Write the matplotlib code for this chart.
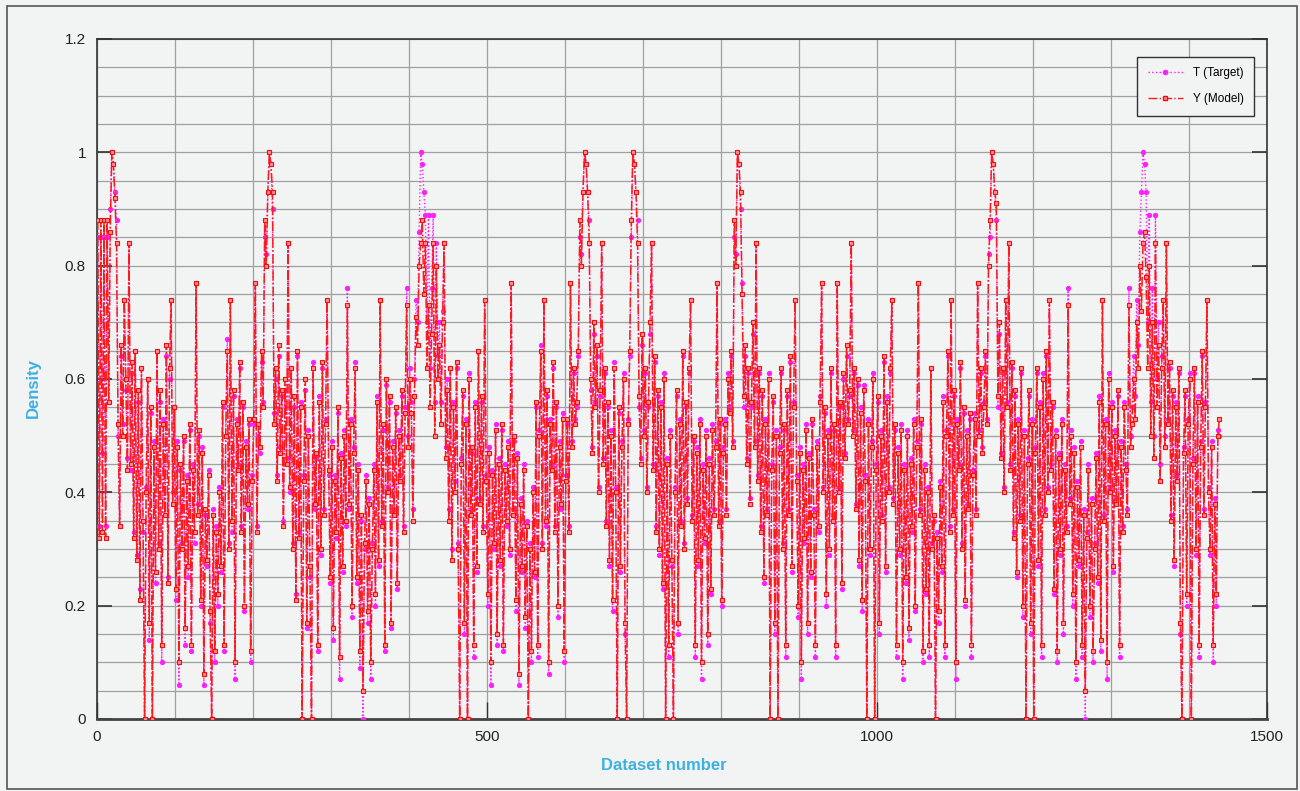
import numpy as np
import matplotlib
matplotlib.use("Agg")
import matplotlib.pyplot as plt
from matplotlib.patches import Rectangle
from matplotlib.lines import Line2D

plt.rcParams['font.family'] = ['Liberation Sans', 'DejaVu Sans']

# dataset number (every second sample is kept)
dataset_no = np.arange(1, 1440, 2)

# Y (Model) output
model = [
    0.88, 0.32, 0.88, 0.33, 0.88, 0.32, 0.88, 0.56, 0.86, 1.00,
    0.98, 0.92, 0.84, 0.52, 0.34, 0.66, 0.50, 0.74, 0.60, 0.44,
    0.84, 0.45, 0.63, 0.32, 0.65, 0.28, 0.58, 0.21, 0.62, 0.35,
    0.00, 0.40, 0.60, 0.17, 0.55, 0.00, 0.48, 0.26, 0.65, 0.30,
    0.58, 0.13, 0.52, 0.36, 0.66, 0.24, 0.62, 0.74, 0.38, 0.55,
    0.23, 0.48, 0.10, 0.45, 0.30, 0.50, 0.16, 0.42, 0.27, 0.52,
    0.13, 0.44, 0.33, 0.77, 0.36, 0.51, 0.21, 0.47, 0.08, 0.37,
    0.28, 0.43, 0.19, 0.00, 0.36, 0.12, 0.33, 0.22, 0.40, 0.27,
    0.56, 0.13, 0.50, 0.65, 0.30, 0.74, 0.35, 0.58, 0.10, 0.52,
    0.44, 0.63, 0.33, 0.56, 0.20, 0.48, 0.38, 0.53, 0.12, 0.42,
    0.53, 0.77, 0.33, 0.52, 0.48, 0.65, 0.55, 0.88, 0.80, 0.93,
    1.00, 0.98, 0.93, 0.52, 0.62, 0.42, 0.66, 0.47, 0.58, 0.34,
    0.60, 0.45, 0.84, 0.41, 0.62, 0.30, 0.57, 0.21, 0.65, 0.32,
    0.55, 0.00, 0.42, 0.60, 0.17, 0.50, 0.27, 0.00, 0.62, 0.38,
    0.47, 0.13, 0.56, 0.30, 0.63, 0.36, 0.52, 0.74, 0.44, 0.25,
    0.48, 0.16, 0.42, 0.33, 0.55, 0.11, 0.46, 0.27, 0.50, 0.35,
    0.73, 0.38, 0.52, 0.20, 0.47, 0.62, 0.25, 0.44, 0.12, 0.36,
    0.05, 0.31, 0.42, 0.19, 0.38, 0.10, 0.30, 0.44, 0.22, 0.56,
    0.28, 0.74, 0.34, 0.52, 0.13, 0.60, 0.40, 0.57, 0.17, 0.48,
    0.36, 0.55, 0.24, 0.50, 0.42, 0.58, 0.33, 0.54, 0.73, 0.48,
    0.60, 0.54, 0.35, 0.57, 0.71, 0.66, 0.80, 0.84, 0.88, 0.75,
    0.84, 0.62, 0.73, 0.55, 0.68, 0.84, 0.50, 0.80, 0.60, 0.66,
    0.52, 0.70, 0.84, 0.46, 0.58, 0.35, 0.62, 0.28, 0.55, 0.40,
    0.63, 0.30, 0.00, 0.45, 0.58, 0.17, 0.52, 0.00, 0.60, 0.36,
    0.48, 0.13, 0.55, 0.27, 0.65, 0.38, 0.57, 0.33, 0.74, 0.42,
    0.22, 0.47, 0.10, 0.43, 0.31, 0.51, 0.15, 0.45, 0.28, 0.52,
    0.13, 0.44, 0.35, 0.48, 0.30, 0.77, 0.36, 0.50, 0.21, 0.46,
    0.08, 0.38, 0.27, 0.44, 0.18, 0.34, 0.00, 0.30, 0.12, 0.40,
    0.26, 0.56, 0.13, 0.50, 0.65, 0.30, 0.74, 0.35, 0.58, 0.10,
    0.52, 0.44, 0.63, 0.33, 0.56, 0.20, 0.48, 0.38, 0.53, 0.12,
    0.42, 0.53, 0.33, 0.77, 0.48, 0.62, 0.52, 0.56, 0.65, 0.88,
    0.80, 0.93, 1.00, 0.98, 0.93, 0.84, 0.60, 0.47, 0.70, 0.55,
    0.66, 0.40, 0.58, 0.84, 0.45, 0.62, 0.34, 0.56, 0.28, 0.50,
    0.21, 0.62, 0.40, 0.00, 0.55, 0.27, 0.48, 0.60, 0.17, 0.00,
    0.52, 0.65, 0.88, 1.00, 0.98, 0.93, 0.84, 0.57, 0.45, 0.68,
    0.50, 0.62, 0.40, 0.56, 0.70, 0.84, 0.44, 0.64, 0.33, 0.58,
    0.30, 0.55, 0.24, 0.60, 0.00, 0.45, 0.13, 0.50, 0.28, 0.00,
    0.40, 0.58, 0.17, 0.52, 0.34, 0.65, 0.30, 0.56, 0.38, 0.62,
    0.74, 0.35, 0.50, 0.13, 0.47, 0.28, 0.52, 0.10, 0.44, 0.32,
    0.50, 0.15, 0.45, 0.23, 0.51, 0.36, 0.48, 0.77, 0.34, 0.53,
    0.21, 0.47, 0.52, 0.36, 0.60, 0.54, 0.65, 0.48, 0.88, 0.80,
    1.00, 0.98, 0.93, 0.75, 0.57, 0.66, 0.45, 0.62, 0.38, 0.56,
    0.70, 0.48, 0.84, 0.42, 0.62, 0.33, 0.58, 0.25, 0.52, 0.36,
    0.60, 0.00, 0.44, 0.57, 0.17, 0.50, 0.00, 0.47, 0.62, 0.30,
    0.52, 0.13, 0.58, 0.36, 0.64, 0.27, 0.55, 0.74, 0.42, 0.20,
    0.47, 0.10, 0.44, 0.32, 0.51, 0.17, 0.46, 0.26, 0.53, 0.36,
    0.13, 0.48, 0.34, 0.56, 0.77, 0.40, 0.55, 0.22, 0.50, 0.30,
    0.62, 0.35, 0.52, 0.13, 0.77, 0.40, 0.56, 0.24, 0.61, 0.46,
    0.66, 0.52, 0.58, 0.84, 0.50, 0.62, 0.37, 0.60, 0.28, 0.54,
    0.21, 0.58, 0.42, 0.00, 0.52, 0.30, 0.48, 0.60, 0.00, 0.44,
    0.57, 0.17, 0.50, 0.35, 0.64, 0.27, 0.56, 0.40, 0.62, 0.74,
    0.38, 0.52, 0.13, 0.47, 0.30, 0.51, 0.10, 0.44, 0.25, 0.50,
    0.16, 0.45, 0.34, 0.52, 0.20, 0.48, 0.77, 0.36, 0.53, 0.12,
    0.44, 0.23, 0.40, 0.13, 0.62, 0.30, 0.36, 0.00, 0.32, 0.19,
    0.41, 0.27, 0.56, 0.13, 0.50, 0.65, 0.33, 0.74, 0.36, 0.58,
    0.10, 0.52, 0.44, 0.63, 0.30, 0.55, 0.21, 0.50, 0.37, 0.54,
    0.13, 0.43, 0.53, 0.36, 0.77, 0.50, 0.62, 0.47, 0.55, 0.65,
    0.52, 0.80, 0.88, 1.00, 0.98, 0.93, 0.91, 0.57, 0.70, 0.46,
    0.62, 0.40, 0.74, 0.55, 0.84, 0.44, 0.63, 0.32, 0.58, 0.26,
    0.52, 0.35, 0.62, 0.20, 0.50, 0.00, 0.45, 0.58, 0.17, 0.52,
    0.00, 0.47, 0.62, 0.28, 0.55, 0.13, 0.60, 0.36, 0.65, 0.40,
    0.74, 0.44, 0.56, 0.23, 0.50, 0.12, 0.46, 0.30, 0.52, 0.17,
    0.44, 0.33, 0.73, 0.38, 0.50, 0.22, 0.47, 0.10, 0.41, 0.28,
    0.48, 0.13, 0.36, 0.05, 0.32, 0.44, 0.20, 0.38, 0.12, 0.30,
    0.46, 0.25, 0.56, 0.14, 0.74, 0.35, 0.52, 0.10, 0.60, 0.40,
    0.55, 0.27, 0.50, 0.38, 0.58, 0.13, 0.48, 0.33, 0.55, 0.44,
    0.36, 0.73, 0.48, 0.52, 0.60, 0.53, 0.70, 0.62, 0.80, 0.72,
    0.84, 0.86, 0.78, 0.62, 0.80, 0.50, 0.70, 0.46, 0.84, 0.55,
    0.66, 0.42, 0.62, 0.74, 0.48, 0.84, 0.52, 0.63, 0.35, 0.58,
    0.28, 0.55, 0.42, 0.62, 0.17, 0.00, 0.47, 0.58, 0.22, 0.52,
    0.60, 0.00, 0.45, 0.62, 0.30, 0.56, 0.13, 0.48, 0.65, 0.36,
    0.55, 0.74, 0.40, 0.30, 0.48, 0.13, 0.38, 0.22, 0.50, 0.53,
]

# T (Target) values
target = [
    0.85, 0.34, 0.85, 0.47, 0.85, 0.34, 0.85, 0.56, 0.90, 1.00,
    0.98, 0.93, 0.88, 0.50, 0.34, 0.64, 0.52, 0.74, 0.58, 0.46,
    0.84, 0.44, 0.61, 0.33, 0.65, 0.29, 0.56, 0.23, 0.62, 0.33,
    0.00, 0.41, 0.60, 0.14, 0.54, 0.00, 0.49, 0.24, 0.65, 0.31,
    0.56, 0.10, 0.53, 0.36, 0.64, 0.25, 0.60, 0.74, 0.40, 0.55,
    0.21, 0.49, 0.06, 0.44, 0.31, 0.49, 0.13, 0.43, 0.25, 0.51,
    0.12, 0.45, 0.31, 0.77, 0.38, 0.50, 0.20, 0.48, 0.06, 0.36,
    0.27, 0.44, 0.17, 0.00, 0.37, 0.10, 0.34, 0.20, 0.41, 0.26,
    0.55, 0.12, 0.50, 0.67, 0.31, 0.74, 0.33, 0.57, 0.07, 0.53,
    0.45, 0.62, 0.34, 0.55, 0.19, 0.49, 0.37, 0.52, 0.10, 0.43,
    0.52, 0.77, 0.34, 0.50, 0.47, 0.63, 0.56, 0.85, 0.82, 0.93,
    1.00, 0.98, 0.90, 0.54, 0.60, 0.43, 0.64, 0.48, 0.57, 0.35,
    0.58, 0.46, 0.84, 0.40, 0.62, 0.31, 0.55, 0.22, 0.64, 0.33,
    0.56, 0.00, 0.43, 0.58, 0.16, 0.51, 0.25, 0.00, 0.63, 0.37,
    0.46, 0.12, 0.57, 0.29, 0.62, 0.37, 0.53, 0.74, 0.43, 0.24,
    0.49, 0.14, 0.43, 0.32, 0.54, 0.07, 0.47, 0.26, 0.51, 0.34,
    0.76, 0.37, 0.53, 0.18, 0.48, 0.63, 0.24, 0.45, 0.09, 0.35,
    0.00, 0.30, 0.43, 0.17, 0.39, 0.07, 0.31, 0.45, 0.20, 0.57,
    0.27, 0.74, 0.35, 0.51, 0.12, 0.59, 0.41, 0.56, 0.16, 0.49,
    0.37, 0.54, 0.23, 0.51, 0.43, 0.57, 0.34, 0.55, 0.76, 0.50,
    0.62, 0.56, 0.37, 0.60, 0.74, 0.70, 0.86, 1.00, 0.98, 0.93,
    0.89, 0.70, 0.89, 0.62, 0.76, 0.89, 0.56, 0.84, 0.64, 0.70,
    0.56, 0.72, 0.84, 0.48, 0.60, 0.37, 0.62, 0.30, 0.56, 0.42,
    0.62, 0.31, 0.00, 0.46, 0.57, 0.15, 0.53, 0.00, 0.61, 0.37,
    0.47, 0.11, 0.56, 0.26, 0.65, 0.39, 0.56, 0.34, 0.74, 0.43,
    0.20, 0.48, 0.06, 0.44, 0.30, 0.52, 0.13, 0.46, 0.27, 0.51,
    0.12, 0.45, 0.34, 0.49, 0.29, 0.77, 0.37, 0.49, 0.19, 0.47,
    0.06, 0.39, 0.26, 0.45, 0.16, 0.35, 0.00, 0.31, 0.10, 0.41,
    0.25, 0.55, 0.11, 0.51, 0.66, 0.31, 0.74, 0.34, 0.57, 0.08,
    0.53, 0.45, 0.62, 0.34, 0.55, 0.18, 0.49, 0.37, 0.54, 0.10,
    0.43, 0.52, 0.34, 0.77, 0.49, 0.61, 0.53, 0.55, 0.64, 0.85,
    0.82, 0.93, 1.00, 0.98, 0.93, 0.88, 0.58, 0.48, 0.68, 0.56,
    0.64, 0.41, 0.57, 0.84, 0.46, 0.61, 0.35, 0.55, 0.27, 0.51,
    0.19, 0.63, 0.41, 0.00, 0.54, 0.26, 0.49, 0.61, 0.15, 0.00,
    0.53, 0.64, 0.85, 1.00, 0.98, 0.93, 0.88, 0.55, 0.46, 0.66,
    0.51, 0.61, 0.41, 0.55, 0.68, 0.84, 0.45, 0.63, 0.34, 0.57,
    0.29, 0.56, 0.23, 0.61, 0.00, 0.46, 0.11, 0.51, 0.27, 0.00,
    0.41, 0.57, 0.15, 0.53, 0.35, 0.64, 0.31, 0.55, 0.39, 0.61,
    0.74, 0.36, 0.49, 0.11, 0.48, 0.27, 0.53, 0.07, 0.45, 0.31,
    0.51, 0.13, 0.46, 0.22, 0.52, 0.37, 0.49, 0.77, 0.35, 0.52,
    0.20, 0.48, 0.53, 0.37, 0.61, 0.55, 0.64, 0.49, 0.85, 0.82,
    1.00, 0.98, 0.90, 0.77, 0.55, 0.64, 0.46, 0.61, 0.39, 0.55,
    0.68, 0.49, 0.84, 0.43, 0.61, 0.34, 0.57, 0.24, 0.53, 0.37,
    0.61, 0.00, 0.45, 0.56, 0.15, 0.51, 0.00, 0.48, 0.61, 0.31,
    0.51, 0.11, 0.57, 0.37, 0.63, 0.26, 0.56, 0.74, 0.43, 0.18,
    0.48, 0.07, 0.45, 0.31, 0.52, 0.15, 0.47, 0.25, 0.52, 0.37,
    0.11, 0.49, 0.33, 0.57, 0.77, 0.41, 0.54, 0.20, 0.51, 0.29,
    0.61, 0.36, 0.51, 0.11, 0.77, 0.41, 0.55, 0.23, 0.60, 0.47,
    0.64, 0.53, 0.57, 0.84, 0.51, 0.61, 0.38, 0.59, 0.27, 0.55,
    0.19, 0.59, 0.43, 0.00, 0.53, 0.29, 0.49, 0.61, 0.00, 0.45,
    0.56, 0.15, 0.51, 0.36, 0.63, 0.26, 0.57, 0.41, 0.61, 0.74,
    0.39, 0.51, 0.11, 0.48, 0.29, 0.52, 0.07, 0.45, 0.24, 0.51,
    0.14, 0.46, 0.33, 0.53, 0.19, 0.49, 0.77, 0.37, 0.52, 0.10,
    0.45, 0.22, 0.41, 0.11, 0.62, 0.31, 0.35, 0.00, 0.33, 0.17,
    0.42, 0.26, 0.57, 0.11, 0.51, 0.64, 0.34, 0.74, 0.37, 0.57,
    0.07, 0.53, 0.45, 0.62, 0.31, 0.54, 0.20, 0.51, 0.38, 0.53,
    0.11, 0.44, 0.54, 0.37, 0.77, 0.51, 0.61, 0.48, 0.56, 0.64,
    0.53, 0.82, 0.85, 1.00, 0.98, 0.93, 0.88, 0.55, 0.68, 0.47,
    0.61, 0.41, 0.74, 0.56, 0.84, 0.45, 0.62, 0.33, 0.57, 0.25,
    0.53, 0.36, 0.61, 0.18, 0.51, 0.00, 0.46, 0.57, 0.15, 0.53,
    0.00, 0.48, 0.61, 0.27, 0.56, 0.11, 0.61, 0.37, 0.64, 0.41,
    0.74, 0.45, 0.55, 0.22, 0.51, 0.10, 0.47, 0.29, 0.53, 0.15,
    0.45, 0.34, 0.76, 0.39, 0.51, 0.20, 0.48, 0.07, 0.42, 0.27,
    0.49, 0.11, 0.37, 0.00, 0.33, 0.45, 0.18, 0.39, 0.10, 0.31,
    0.47, 0.24, 0.57, 0.12, 0.74, 0.36, 0.53, 0.07, 0.61, 0.41,
    0.56, 0.26, 0.51, 0.39, 0.57, 0.11, 0.49, 0.34, 0.56, 0.45,
    0.37, 0.76, 0.50, 0.55, 0.64, 0.57, 0.74, 0.66, 0.86, 0.93,
    1.00, 0.98, 0.93, 0.70, 0.89, 0.56, 0.76, 0.50, 0.89, 0.60,
    0.70, 0.45, 0.64, 0.74, 0.50, 0.84, 0.53, 0.62, 0.36, 0.57,
    0.27, 0.56, 0.43, 0.61, 0.15, 0.00, 0.48, 0.57, 0.20, 0.53,
    0.61, 0.00, 0.46, 0.61, 0.29, 0.57, 0.11, 0.49, 0.64, 0.37,
    0.56, 0.74, 0.41, 0.29, 0.49, 0.10, 0.39, 0.20, 0.51, 0.50,
]

bg = '#f2f3f3'
blue = '#3cb1e3'
red = '#ff1a1a'
magenta = '#ff20ff'

fig = plt.figure(figsize=(13.0, 7.91), dpi=100, facecolor=bg)
ax = fig.add_axes([97 / 1300, 1 - 719 / 791, 1170 / 1300, 680 / 791])
ax.set_facecolor(bg)

# target dotted underneath, model dash-dot on top (red dominates)
ax.plot(dataset_no, target, color=magenta, linestyle=':', lw=1.0,
        marker='o', ms=2.8, mfc=magenta, mec=magenta, zorder=3)
ax.plot(dataset_no, model, color=red, linestyle='-.', lw=1.1,
        marker='s', ms=3, mfc='#ff8c8c', mec='#ee1010', mew=0.8, zorder=4)

ax.set_xlim(0, 1500)
ax.set_ylim(0, 1.2)
ax.set_xticks([0, 500, 1000, 1500])
ax.set_xticklabels(['0', '500', '1000', '1500'])
ax.set_xticks(np.arange(0, 1501, 100), minor=True)
ax.set_yticks(np.arange(0, 1.21, 0.2))
ax.set_yticklabels(['0', '0.2', '0.4', '0.6', '0.8', '1', '1.2'])
ax.set_yticks(np.arange(0, 1.21, 0.05), minor=True)

ax.grid(True, which='both', color='#a0a0a0', lw=0.9, zorder=0)
ax.set_axisbelow(True)

ax.tick_params(axis='both', which='minor', length=0)
ax.tick_params(axis='y', which='major', direction='in', length=11, width=1.2,
               color='#333333', right=True, labelsize=11, labelcolor='#222222', pad=8)
ax.tick_params(axis='x', which='major', direction='in', length=12, width=1.0,
               color='#333333', labelsize=11, labelcolor='#222222', pad=8)

for side in ['left', 'top', 'right']:
    ax.spines[side].set_color('#333333')
    ax.spines[side].set_linewidth(1.2)
ax.spines['bottom'].set_color('#444444')
ax.spines['bottom'].set_linewidth(2)

fig.text(664 / 1300, 1 - 765 / 791, 'Dataset number', color=blue, fontsize=12,
         fontweight='bold', ha='center', va='center')
fig.text(33 / 1300, 1 - 388 / 791, 'Density', color=blue, fontsize=12,
         fontweight='bold', ha='center', va='center', rotation=90)

handles = [
    Line2D([], [], color=magenta, linestyle=':', lw=1.0, marker='o', ms=3),
    Line2D([], [], color=red, linestyle='-.', lw=1.0, marker='s', ms=3,
           mfc='#ff8c8c', mec='#ee1010'),
]
leg = ax.legend(handles, ['T (Target)', 'Y (Model)'], loc='upper right',
                bbox_to_anchor=(0.989, 0.974), borderaxespad=0, fontsize=8.5,
                handlelength=3, labelspacing=1.2, borderpad=0.9,
                fancybox=False, framealpha=1, facecolor=bg, edgecolor='#333333')
leg.get_frame().set_linewidth(1.0)
leg.set_zorder(10)

fig.add_artist(Rectangle((7 / 1300, 2 / 791), 1290 / 1300, 783 / 791,
                         transform=fig.transFigure, fill=False,
                         ec='#555555', lw=1.2))

fig.savefig('out.png', dpi=100, facecolor=bg)
